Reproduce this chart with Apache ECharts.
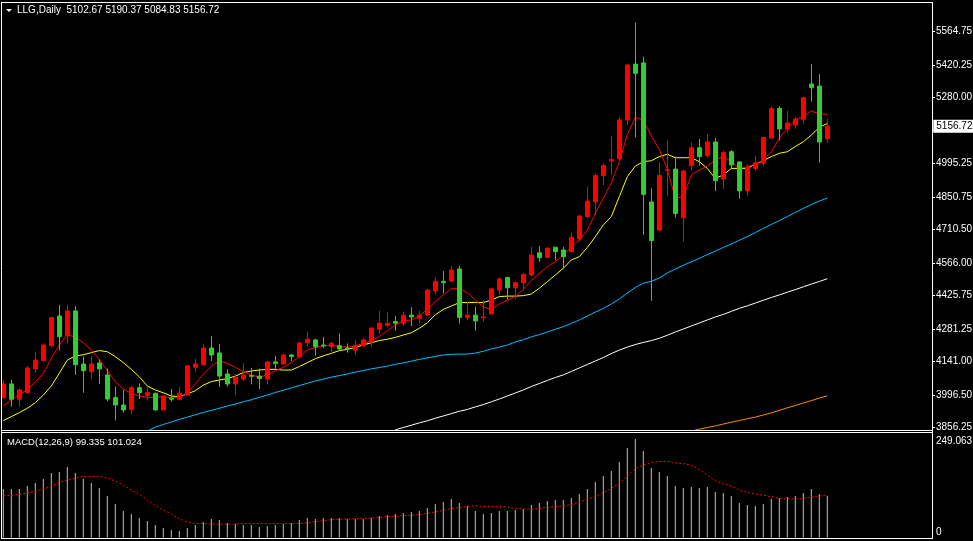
<!DOCTYPE html>
<html><head><meta charset="utf-8">
<script src="https://cdn.jsdelivr.net/npm/echarts@6/dist/echarts.min.js"></script>
<style>html,body{margin:0;padding:0;background:#000}#c{width:973px;height:541px}</style>
</head><body><div id="c"></div>
<script>
// ---------- data ----------
const symbolName = 'LLG,Daily';
const openP  = [3986,4045,3979,4007,4111,4146,4210,4338,4253,4360,4131,4098,4135,4084,3986,3954,3934,4029,3995,4005,3933,3983,3979,3997,4117,4128,4200,4179,4088,4045,4066,4081,4079,4066,4140,4131,4170,4161,4222,4235,4213,4206,4210,4200,4191,4209,4226,4281,4298,4314,4307,4342,4328,4342,4446,4488,4489,4541,4332,4342,4331,4347,4450,4504,4460,4482,4515,4611,4591,4635,4623,4616,4670,4767,4831,4944,5008,5016,5184,5425,5430,4830,4709,4967,4972,4762,4987,5064,5030,5089,4929,5047,5003,4878,4975,4997,5106,5234,5145,5162,5187,5339,5330,5102.67];
const closeP = [4045,3979,4019,4114,4148,4213,4331,4249,4360,4128,4102,4131,4110,3980,3954,3933,4029,4007,4007,3933,3993,3979,4005,4123,4131,4200,4170,4079,4045,4074,4084,4078,4068,4140,4133,4170,4163,4222,4238,4205,4209,4220,4196,4196,4212,4235,4286,4307,4307,4307,4341,4334,4342,4450,4488,4482,4537,4332,4342,4317,4334,4455,4498,4460,4482,4518,4601,4590,4630,4616,4594,4678,4770,4834,4944,4987,5013,5184,5421,5385,4863,4663,4944,4970,4780,4964,5064,5026,5089,4922,5043,4990,4878,4978,4999,5108,5233,5145,5171,5188,5280,5323,5089,5156.72];
const lowP   = [3983,3947,3947,4005,4094,4141,4202,4189,4220,4084,4007,4066,4045,3971,3887,3921,3915,3980,3973,3930,3933,3969,3976,3993,4098,4124,4144,4033,4033,3997,4059,4043,4023,4043,4108,4130,4144,4160,4206,4167,4199,4184,4191,4180,4170,4206,4206,4261,4289,4275,4295,4295,4307,4338,4433,4436,4486,4306,4321,4275,4314,4347,4429,4410,4410,4450,4511,4572,4587,4580,4540,4612,4659,4760,4774,4901,4946,5004,5162,5108,4688,4404,4705,4856,4762,4659,4965,4987,5021,4877,4886,4975,4844,4857,4964,4985,5102,5095,5129,5146,5167,5263,5000,5084.83];
const highP  = [4062,4062,4026,4122,4184,4220,4335,4386,4386,4381,4163,4163,4151,4112,4033,4019,4036,4048,4036,4007,3995,4023,4033,4127,4153,4217,4252,4217,4108,4088,4135,4114,4112,4144,4166,4177,4174,4226,4271,4240,4248,4228,4263,4220,4235,4242,4289,4360,4354,4338,4357,4376,4361,4453,4505,4532,4555,4554,4400,4378,4407,4458,4504,4508,4486,4522,4636,4640,4636,4636,4636,4698,4772,4896,4954,4997,5115,5195,5425,5604,5457,4889,5000,5097,5026,4968,5087,5102,5123,5106,5052,5054,5004,4993,5030,5108,5243,5244,5223,5198,5282,5425,5382,5190.37];

const maRed    = [3950,3976,4000,4019,4055,4091,4156,4213,4259,4246,4223,4192,4151,4102,4055,4022,4005,3993,3987,3987,3990,3986,3984,4005,4045,4087,4122,4144,4134,4117,4098,4084,4074,4084,4102,4117,4137,4163,4192,4202,4210,4212,4206,4203,4209,4220,4230,4249,4275,4299,4317,4321,4338,4367,4400,4429,4456,4456,4439,4407,4376,4367,4390,4407,4422,4453,4491,4522,4551,4573,4601,4637,4666,4709,4781,4846,4913,5004,5119,5195,5184,5115,5057,4971,4846,4853,4947,4968,4985,5011,5026,5004,4975,4982,4994,5008,5047,5105,5148,5184,5198,5223,5210,5208];
const maYellow = [3887,3904,3921,3940,3964,3997,4036,4091,4148,4166,4171,4180,4189,4184,4163,4137,4108,4076,4036,4019,4007,3993,3990,4002,4016,4040,4055,4062,4068,4079,4094,4101,4105,4108,4108,4105,4105,4120,4137,4154,4166,4177,4189,4194,4203,4213,4223,4232,4238,4246,4256,4266,4285,4309,4343,4367,4381,4396,4396,4397,4396,4407,4422,4424,4424,4426,4433,4458,4486,4515,4544,4580,4594,4634,4680,4731,4767,4853,4939,4985,5004,5008,5026,5036,5021,5021,5021,5004,4975,4932,4947,4975,4975,4975,4994,5008,5026,5040,5047,5069,5090,5119,5152,5169];
const maBlueStart = 18;
const maBlue   = [3842,3859,3870,3881,3892,3902,3912,3922,3931,3940,3950,3958,3968,3977,3987,3997,4008,4018,4028,4038,4048,4058,4066,4074,4081,4088,4096,4103,4110,4116,4122,4130,4136,4143,4151,4157,4164,4170,4173,4174,4174,4178,4186,4196,4204,4213,4226,4236,4248,4258,4269,4281,4292,4306,4321,4338,4355,4371,4390,4412,4437,4461,4480,4488,4502,4524,4541,4557,4572,4587,4603,4618,4634,4649,4665,4681,4698,4716,4733,4750,4767,4785,4802,4819,4834,4847];
const maWhiteStart = 49;
const maWhite  = [3847,3857,3867,3877,3886,3897,3907,3917,3927,3935,3946,3956,3968,3980,3993,4006,4019,4034,4047,4060,4073,4084,4099,4114,4129,4144,4159,4176,4191,4204,4215,4224,4232,4242,4255,4269,4282,4295,4308,4321,4334,4345,4358,4371,4382,4394,4406,4418,4429,4441,4452,4464,4476,4487,4499];
const maOrangeStart = 86;
const maOrange = [3842,3850,3857,3864,3872,3880,3887,3895,3902,3911,3920,3931,3942,3952,3963,3973,3984,3994];

const macdHist = [115.6,115.6,115.6,122.7,129.9,139.4,153.7,156.1,168.0,153.7,139.4,129.9,118.0,98.9,79.8,63.2,56.0,46.5,39.3,29.8,22.6,17.9,15.5,22.6,29.8,36.9,44.1,41.7,34.6,32.2,29.8,29.8,25.0,27.4,29.8,32.2,34.6,41.7,46.5,44.1,46.5,46.5,46.5,44.1,44.1,44.1,46.5,51.2,53.6,56.0,58.4,60.8,63.2,70.3,79.8,84.6,91.8,82.2,75.1,63.2,56.0,58.4,63.2,63.2,65.5,67.9,77.5,82.2,87.0,89.4,89.4,94.1,103.7,115.6,132.3,146.6,158.6,179.9,213.3,234.8,206.1,165.6,156.1,146.6,122.7,118.0,120.3,118.0,120.3,108.4,106.0,98.9,82.2,77.5,75.1,79.8,91.8,94.1,96.5,98.9,106.0,115.6,103.7,99.335];
const macdSignal = [98.9,100.5,102.9,106.0,110.0,115.6,122.7,131.5,137.0,141.0,145.0,145.8,145.8,141.8,134.7,125.1,113.2,102.9,89.4,76.7,65.5,56.0,44.9,37.0,33.8,33.0,32.2,31.4,31.4,32.2,33.0,33.0,33.0,33.0,33.0,33.0,33.0,33.8,34.6,37.8,40.1,42.5,43.3,44.1,44.9,45.7,46.5,48.1,49.7,50.4,52.0,52.8,55.2,57.6,60.8,64.7,68.7,71.1,74.3,75.9,74.3,74.3,74.3,72.7,69.5,67.9,67.1,68.7,71.9,73.5,75.1,78.3,84.6,91.8,97.3,106.8,117.1,129.1,146.6,164.1,172.1,178.4,180.8,181.6,177.6,176.0,172.1,161.7,149.0,135.5,127.5,122.7,113.2,107.6,103.7,100.5,97.3,93.3,92.5,91.8,93.3,96.5,98.9,101.024];

const priceTicks  = [3856.25,3996.50,4141.00,4281.25,4425.75,4566.00,4710.50,4850.75,4995.25,5139.75,5280.00,5420.25,5564.75];
const priceLabels = [3856.25,3996.50,4141.00,4281.25,4425.75,4566.00,4710.50,4850.75,4995.25,5280.00,5420.25,5564.75];
const macdLabels  = [0, 249.063];
const macdTitle = 'MACD(12,26,9)';

// ---------- build ----------
const N = openP.length;
const SLOTS = 117;
const cats = Array.from({length: SLOTS}, (_, i) => String(i + 1));
const pad = (start, arr) => Array(start).fill(null).concat(arr);
const candles = openP.map((o, i) => [o, closeP[i], lowP[i], highP[i]]);
const lastClose = closeP[N - 1];
const FONT = 'Liberation Sans';

const chart = echarts.init(document.getElementById('c'), null, {renderer: 'canvas'});
const line = (name, data, color, extra) => Object.assign({
  type: 'line', name, data, xAxisIndex: 0, yAxisIndex: 0, symbol: 'none', silent: true,
  lineStyle: {color, width: 1}, itemStyle: {color}, clip: true, animation: false
}, extra || {});

const frameColor = '#ffffff';
const hl = (x1, y1, x2, y2) => ({type: 'line', silent: true, z: 100,
  shape: {x1, y1, x2, y2}, style: {stroke: frameColor, lineWidth: 1}});

chart.setOption({
  backgroundColor: '#000000',
  animation: false,
  grid: [
    {left: -0.7, right: 37.7, top: 3, height: 427, containLabel: false, outerBoundsMode: 'none'},
    {left: -0.7, right: 37.7, top: 433, height: 104.5, containLabel: false, outerBoundsMode: 'none'}
  ],
  xAxis: [
    {type: 'category', gridIndex: 0, data: cats, boundaryGap: true, show: false},
    {type: 'category', gridIndex: 1, data: cats, boundaryGap: true, show: false}
  ],
  yAxis: [
    {type: 'value', gridIndex: 0, position: 'right', offset: -3.3, min: 3846.33, max: 5688.57, scale: true,
     axisLine: {show: false}, splitLine: {show: false},
     axisTick: {show: true, length: 3, lineStyle: {color: '#ffffff'}, customValues: priceTicks},
     axisLabel: {show: true, color: '#ffffff', fontFamily: FONT, fontSize: 10, margin: 4,
       customValues: priceLabels, formatter: v => Number(v).toFixed(2)}},
    {type: 'value', gridIndex: 1, position: 'right', offset: -3.3, min: 0, max: 249.063,
     axisLine: {show: false}, splitLine: {show: false}, axisTick: {show: false},
     axisLabel: {show: true, color: '#ffffff', fontFamily: FONT, fontSize: 10, margin: 4,
       padding: [3, 0, 0, 0],
       customValues: macdLabels, verticalAlignMinLabel: 'bottom', verticalAlignMaxLabel: 'top',
       formatter: v => (v === 0 ? '0' : Number(v).toFixed(3))}}
  ],
  series: [
    line('MA white', pad(maWhiteStart, maWhite), '#ffffff'),
    line('MA orange', pad(maOrangeStart, maOrange), '#ff8c00'),
    line('MA blue', pad(maBlueStart, maBlue), '#00bfff'),
    line('MA yellow', maYellow, '#ffff00'),
    {type: 'candlestick', name: symbolName, data: candles, xAxisIndex: 0, yAxisIndex: 0,
     barWidth: 4, silent: true, clip: true, z: 3,
     itemStyle: {color: '#ff0000', color0: '#32cd32', borderColor: '#ff0000', borderColor0: '#32cd32', borderWidth: 1}},
    line('MA red', maRed, '#ff0000', {
     markLine: {silent: true, symbol: ['none', 'none'], animation: false, z: 50,
       lineStyle: {color: 'rgba(0,0,0,0)', width: 0, type: 'solid'},
       label: {show: true, position: 'end', distance: -2, formatter: () => lastClose.toFixed(2),
         color: '#000000', backgroundColor: '#ffffff', padding: [2, 2, 1, 3], fontFamily: FONT, fontSize: 10},
       data: [{yAxis: lastClose}]}}),
    {type: 'bar', name: 'MACD', data: macdHist, xAxisIndex: 1, yAxisIndex: 1, barWidth: 1,
     itemStyle: {color: '#c0c0c0'}, silent: true},
    line('Signal', macdSignal, '#ff0000', {xAxisIndex: 1, yAxisIndex: 1,
     lineStyle: {color: '#ff0000', width: 1, type: [2, 2]}})
  ],
  graphic: [
    hl(1.5, 2, 1.5, 539),
    hl(1, 2.5, 933, 2.5),
    hl(1, 430.5, 933, 430.5),
    hl(1, 432.5, 933, 432.5),
    hl(1, 538.5, 933, 538.5),
    hl(932.5, 2, 932.5, 539),
    {type: 'polygon', silent: true, z: 100, shape: {points: [[6, 9], [12, 9], [9, 12]]}, style: {fill: '#ffffff'}},
    {type: 'text', silent: true, z: 100, left: 17, top: 5,
     style: {text: symbolName + '  ' + [openP[N-1], highP[N-1], lowP[N-1], closeP[N-1]].map(v => v.toFixed(2)).join(' '),
       fill: '#ffffff', font: '10px ' + FONT}},
    {type: 'text', silent: true, z: 100, left: 7, top: 437,
     style: {text: macdTitle + ' ' + macdHist[N-1].toFixed(3) + ' ' + macdSignal[N-1].toFixed(3),
       fill: '#ffffff', font: '9.5px ' + FONT}}
  ]
});
</script></body></html>
